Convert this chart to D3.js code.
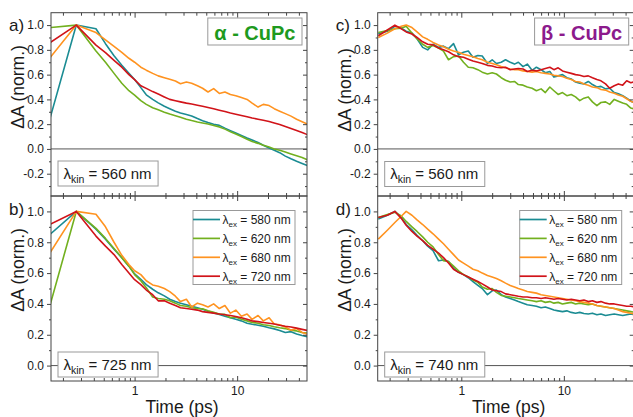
<!DOCTYPE html>
<html>
<head>
<meta charset="utf-8">
<script src="https://cdn.jsdelivr.net/npm/d3@7"></script>
<style>
body { margin: 0; background: #fff; }
text { font-family: "Liberation Sans", Arial, sans-serif; fill: #1a1a1a; }
</style>
</head>
<body>
<script>
// time grids (ps)
const tAB = [0.15, 0.27, 0.42, 0.52, 0.63, 0.75, 0.88, 1.0, 1.15, 1.3,
    1.5, 1.7, 1.95, 2.2, 2.5, 2.8, 3.2, 3.6, 4.1, 4.6,
    5.2, 5.9, 6.7, 7.6, 8.6, 9.7, 11, 12.5, 14, 16,
    18, 20.5, 23, 26, 29.5, 33.5, 38, 43, 48.5];

const tCD = [0.155, 0.19, 0.225, 0.26, 0.29, 0.33, 0.37, 0.42, 0.47, 0.53,
    0.6, 0.67, 0.75, 0.84, 0.94, 1.05, 1.17, 1.3, 1.45, 1.6,
    1.8, 2.0, 2.2, 2.45, 2.7, 3.0, 3.3, 3.6, 4.0, 4.4,
    4.9, 5.4, 6.0, 6.6, 7.3, 8.0, 8.8, 9.7, 10.7, 11.8,
    13, 14.3, 15.7, 17.3, 19, 21, 23, 25.5, 28, 31,
    34, 37.5, 41, 45, 49.5];

// a) alpha-CuPc, kin 560 nm
const a580 = [0.25, 1.0, 0.97, 0.85, 0.753, 0.675, 0.61, 0.56, 0.495, 0.437,
    0.40, 0.372, 0.345, 0.325, 0.305, 0.29, 0.278, 0.266, 0.245, 0.228,
    0.213, 0.20, 0.19, 0.168, 0.148, 0.128, 0.108, 0.088, 0.072, 0.052,
    0.03, 0.008, -0.01, -0.03, -0.058, -0.08, -0.10, -0.118, -0.135];
const a620 = [0.98, 1.0, 0.79, 0.70, 0.61, 0.53, 0.47, 0.435, 0.39, 0.36,
    0.333, 0.316, 0.297, 0.282, 0.268, 0.255, 0.24, 0.229, 0.218, 0.21,
    0.202, 0.19, 0.178, 0.16, 0.138, 0.12, 0.10, 0.078, 0.06, 0.045,
    0.03, 0.015, 0.0, -0.01, -0.025, -0.04, -0.055, -0.07, -0.088];
const a680 = [0.737, 1.0, 0.94, 0.88, 0.828, 0.78, 0.732, 0.70, 0.66, 0.636,
    0.61, 0.59, 0.575, 0.562, 0.548, 0.527, 0.54, 0.53, 0.51, 0.49,
    0.46, 0.487, 0.448, 0.46, 0.44, 0.43, 0.415, 0.40, 0.37, 0.338,
    0.36, 0.35, 0.325, 0.305, 0.285, 0.265, 0.24, 0.22, 0.20];
const a720 = [0.858, 1.0, 0.838, 0.777, 0.715, 0.66, 0.60, 0.56, 0.51, 0.489,
    0.463, 0.443, 0.42, 0.40, 0.389, 0.38, 0.37, 0.363, 0.353, 0.345,
    0.335, 0.325, 0.313, 0.302, 0.29, 0.28, 0.27, 0.26, 0.25, 0.24,
    0.232, 0.222, 0.21, 0.198, 0.182, 0.165, 0.148, 0.132, 0.115];

// b) alpha-CuPc, kin 725 nm
const b580 = [0.852, 1.0, 0.885, 0.82, 0.755, 0.70, 0.645, 0.595, 0.56, 0.525,
    0.495, 0.472, 0.452, 0.43, 0.415, 0.405, 0.394, 0.385, 0.375, 0.365,
    0.352, 0.342, 0.332, 0.32, 0.31, 0.30, 0.29, 0.275, 0.268, 0.262,
    0.255, 0.245, 0.238, 0.228, 0.215, 0.22, 0.205, 0.195, 0.187];
const b620 = [0.394, 1.0, 0.89, 0.825, 0.76, 0.70, 0.645, 0.59, 0.55, 0.505,
    0.445, 0.435, 0.43, 0.42, 0.405, 0.39, 0.385, 0.375, 0.37, 0.368,
    0.355, 0.345, 0.335, 0.332, 0.31, 0.315, 0.30, 0.29, 0.28, 0.275,
    0.265, 0.26, 0.252, 0.245, 0.24, 0.23, 0.225, 0.215, 0.21];
const b680 = [0.732, 1.0, 0.982, 0.90, 0.80, 0.715, 0.655, 0.615, 0.59, 0.55,
    0.523, 0.515, 0.50, 0.48, 0.45, 0.415, 0.43, 0.38, 0.405, 0.395,
    0.38, 0.40, 0.37, 0.39, 0.34, 0.36, 0.32, 0.335, 0.30, 0.325,
    0.29, 0.31, 0.27, 0.265, 0.25, 0.23, 0.24, 0.215, 0.205];
const b720 = [0.917, 1.0, 0.84, 0.775, 0.72, 0.655, 0.60, 0.557, 0.525, 0.49,
    0.46, 0.42, 0.42, 0.405, 0.39, 0.375, 0.37, 0.365, 0.36, 0.35,
    0.345, 0.34, 0.335, 0.33, 0.325, 0.318, 0.31, 0.30, 0.29, 0.285,
    0.28, 0.275, 0.27, 0.262, 0.255, 0.25, 0.243, 0.235, 0.228];

// c) beta-CuPc, kin 560 nm
const c580 = [0.93, 0.95, 0.99, 0.975, 0.95, 0.935, 0.89, 0.82, 0.80, 0.845,
    0.82, 0.83, 0.81, 0.85, 0.76, 0.78, 0.79, 0.74, 0.755, 0.75,
    0.69, 0.72, 0.69, 0.70, 0.72, 0.70, 0.685, 0.70, 0.665, 0.685,
    0.635, 0.66, 0.64, 0.615, 0.625, 0.58, 0.59, 0.60, 0.575, 0.565,
    0.54, 0.53, 0.525, 0.545, 0.52, 0.50, 0.505, 0.485, 0.49, 0.455,
    0.445, 0.43, 0.41, 0.385, 0.37];
const c620 = [0.94, 0.955, 0.97, 0.975, 0.99, 0.935, 0.89, 0.845, 0.82, 0.835,
    0.815, 0.79, 0.72, 0.745, 0.75, 0.70, 0.66, 0.655, 0.64, 0.62,
    0.605, 0.615, 0.605, 0.575, 0.555, 0.54, 0.545, 0.52, 0.515, 0.50,
    0.49, 0.47, 0.485, 0.455, 0.50, 0.47, 0.44, 0.455, 0.43, 0.44,
    0.42, 0.39, 0.41, 0.42, 0.38, 0.35, 0.375, 0.38, 0.36, 0.40,
    0.385, 0.37, 0.36, 0.33, 0.32];
const c680 = [0.90, 0.935, 0.97, 0.99, 1.0, 0.98, 0.945, 0.905, 0.885, 0.86,
    0.84, 0.825, 0.805, 0.79, 0.78, 0.765, 0.755, 0.745, 0.73, 0.72,
    0.70, 0.69, 0.68, 0.665, 0.655, 0.645, 0.64, 0.64, 0.63, 0.625,
    0.62, 0.625, 0.615, 0.61, 0.605, 0.595, 0.59, 0.585, 0.57, 0.56,
    0.545, 0.54, 0.525, 0.515, 0.50, 0.495, 0.48, 0.475, 0.46, 0.45,
    0.435, 0.425, 0.405, 0.385, 0.37];
const c720 = [0.914, 0.96, 1.0, 0.97, 0.945, 0.928, 0.90, 0.865, 0.845, 0.84,
    0.815, 0.80, 0.785, 0.76, 0.745, 0.74, 0.725, 0.71, 0.70, 0.69,
    0.675, 0.67, 0.66, 0.655, 0.66, 0.64, 0.645, 0.65, 0.645, 0.625,
    0.635, 0.63, 0.64, 0.65, 0.66, 0.64, 0.655, 0.63, 0.62, 0.61,
    0.60, 0.595, 0.585, 0.59, 0.575, 0.56, 0.55, 0.525, 0.49, 0.51,
    0.525, 0.515, 0.55, 0.535, 0.545];

// d) beta-CuPc, kin 740 nm
const d580 = [0.95, 0.975, 1.0, 0.96, 0.915, 0.88, 0.845, 0.81, 0.775, 0.745,
    0.68, 0.685, 0.675, 0.63, 0.605, 0.59, 0.57, 0.545, 0.52, 0.50,
    0.46, 0.485, 0.49, 0.46, 0.445, 0.435, 0.425, 0.415, 0.405, 0.395,
    0.39, 0.385, 0.375, 0.38, 0.37, 0.36, 0.355, 0.35, 0.355, 0.345,
    0.34, 0.345, 0.338, 0.335, 0.34, 0.33, 0.335, 0.325, 0.33, 0.335,
    0.33, 0.325, 0.33, 0.335, 0.33];
const d620 = [0.96, 0.98, 0.995, 0.97, 0.935, 0.90, 0.87, 0.835, 0.80, 0.77,
    0.72, 0.68, 0.675, 0.645, 0.615, 0.59, 0.575, 0.555, 0.54, 0.51,
    0.495, 0.50, 0.475, 0.455, 0.45, 0.445, 0.44, 0.435, 0.43, 0.425,
    0.42, 0.415, 0.42, 0.41, 0.415, 0.405, 0.41, 0.40, 0.405, 0.41,
    0.40, 0.405, 0.40, 0.395, 0.40, 0.39, 0.385, 0.38, 0.375, 0.37,
    0.365, 0.36, 0.355, 0.35, 0.345];
const d680 = [0.82, 0.878, 0.928, 0.969, 1.0, 0.975, 0.945, 0.915, 0.885, 0.855,
    0.82, 0.79, 0.755, 0.72, 0.685, 0.665, 0.645, 0.625, 0.615, 0.60,
    0.585, 0.575, 0.565, 0.55, 0.535, 0.52, 0.51, 0.50, 0.49, 0.48,
    0.475, 0.47, 0.46, 0.455, 0.45, 0.445, 0.44, 0.435, 0.43, 0.425,
    0.42, 0.415, 0.41, 0.405, 0.40, 0.39, 0.385, 0.38, 0.375, 0.37,
    0.36, 0.35, 0.345, 0.34, 0.335];
const d720 = [0.96, 0.975, 1.0, 0.955, 0.91, 0.87, 0.84, 0.81, 0.78, 0.755,
    0.73, 0.70, 0.665, 0.625, 0.605, 0.59, 0.575, 0.56, 0.545, 0.53,
    0.51, 0.49, 0.485, 0.48, 0.465, 0.46, 0.455, 0.45, 0.445, 0.445,
    0.44, 0.44, 0.435, 0.44, 0.435, 0.43, 0.435, 0.43, 0.425, 0.43,
    0.425, 0.42, 0.425, 0.415, 0.42, 0.41, 0.415, 0.405, 0.40, 0.40,
    0.395, 0.39, 0.385, 0.385, 0.38];

const excitation = ["580", "620", "680", "720"];
const xTicksMajor = [1, 10];
const xTicksMinor = [0.2, 0.3, 0.4, 0.5, 0.6, 0.7, 0.8, 0.9, 2, 3, 4, 5, 6, 7, 8, 9, 20, 30, 40];
const yTicksTop = [-0.2, 0.0, 0.2, 0.4, 0.6, 0.8, 1.0];
const yMinorTop = [-0.3, -0.1, 0.1, 0.3, 0.5, 0.7, 0.9];
const yTicksBottom = [0.0, 0.2, 0.4, 0.6, 0.8, 1.0];
const yMinorBottom = [0.1, 0.3, 0.5, 0.7, 0.9];

const colors = ["#1b8c93", "#72b01f", "#ff9320", "#d11319"];

const width = 633;
const height = 417;
const panelWidth = 256;
const timeDomain = [0.153, 48];

const svg = d3.select("body").append("svg")
    .attr("width", width)
    .attr("height", height);

const panels = [
    { letter: "a)", x0: 51, y0: 12.7, y1: 196, yDomain: [-0.38, 1.1], yMajor: yTicksTop, yMinor: yMinorTop,
      t: tAB, series: [a580, a620, a680, a720], kin: "560", kinTop: 161, title: "\u03b1 - CuPc", titleColor: "#1e9a1e",
      legend: false, xLabels: false, yLabelY: 87 },
    { letter: "b)", x0: 51, y0: 196, y1: 381, yDomain: [-0.1, 1.1], yMajor: yTicksBottom, yMinor: yMinorBottom,
      t: tAB, series: [b580, b620, b680, b720], kin: "725", kinTop: 352, title: null,
      legend: true, xLabels: true, yLabelY: 270 },
    { letter: "c)", x0: 377.7, y0: 12.7, y1: 196, yDomain: [-0.38, 1.1], yMajor: yTicksTop, yMinor: yMinorTop,
      t: tCD, series: [c580, c620, c680, c720], kin: "560", kinTop: 161.5, title: "\u03b2 - CuPc", titleColor: "#8c1a8c",
      legend: false, xLabels: false, yLabelY: 90 },
    { letter: "d)", x0: 377.7, y0: 196, y1: 381, yDomain: [-0.1, 1.1], yMajor: yTicksBottom, yMinor: yMinorBottom,
      t: tCD, series: [d580, d620, d680, d720], kin: "740", kinTop: 352, title: null,
      legend: true, xLabels: true, yLabelY: 270 }
];

function drawPanel(p, i) {
    const x1 = p.x0 + panelWidth;
    const x = d3.scaleLog().domain(timeDomain).range([p.x0, x1]);
    const y = d3.scaleLinear().domain(p.yDomain).range([p.y1, p.y0]);
    const g = svg.append("g");

    g.append("clipPath").attr("id", "clip" + i)
        .append("rect")
        .attr("x", p.x0).attr("y", p.y0)
        .attr("width", panelWidth).attr("height", p.y1 - p.y0);

    // zero line
    g.append("line")
        .attr("x1", p.x0).attr("x2", x1)
        .attr("y1", y(0)).attr("y2", y(0))
        .attr("stroke", "#555").attr("stroke-width", 1);

    const line = d3.line()
        .x((d, k) => x(p.t[k]))
        .y(d => y(d));

    g.append("g").attr("clip-path", "url(#clip" + i + ")")
        .selectAll(".trace")
        .data(p.series)
        .enter()
        .append("path")
        .attr("class", "trace")
        .attr("d", d => line(d))
        .attr("fill", "none")
        .attr("stroke", (d, k) => colors[k])
        .attr("stroke-width", 1.6)
        .attr("stroke-linejoin", "round");

    // axes: left ticks outward, others inward
    const fmt = d => d.toFixed(1);
    const axes = [
        g.append("g").attr("transform", `translate(${p.x0},0)`).call(d3.axisLeft(y).tickValues(p.yMajor).tickSize(4).tickPadding(3).tickFormat(fmt)),
        g.append("g").attr("transform", `translate(${p.x0},0)`).call(d3.axisLeft(y).tickValues(p.yMinor).tickSize(2).tickFormat("")),
        g.append("g").attr("transform", `translate(${x1},0)`).call(d3.axisRight(y).tickValues(p.yMajor).tickSize(-4).tickFormat("")),
        g.append("g").attr("transform", `translate(${x1},0)`).call(d3.axisRight(y).tickValues(p.yMinor).tickSize(-2).tickFormat("")),
        g.append("g").attr("transform", `translate(0,${p.y0})`).call(d3.axisTop(x).tickValues(xTicksMajor).tickSize(-5).tickFormat("")),
        g.append("g").attr("transform", `translate(0,${p.y0})`).call(d3.axisTop(x).tickValues(xTicksMinor).tickSize(-3).tickFormat("")),
        g.append("g").attr("transform", `translate(0,${p.y1})`).call(d3.axisBottom(x).tickValues(xTicksMajor).tickSize(-5).tickPadding(5)
            .tickFormat(d => p.xLabels ? String(d) : "")),
        g.append("g").attr("transform", `translate(0,${p.y1})`).call(d3.axisBottom(x).tickValues(xTicksMinor).tickSize(-3).tickFormat(""))
    ];
    axes.forEach(a => {
        a.select(".domain").remove();
        a.selectAll(".tick line").attr("stroke", "#444");
        a.selectAll(".tick text").attr("font-size", 12).attr("fill", "#1a1a1a")
            .attr("font-family", "'Liberation Sans', Arial, sans-serif");
    });

    // frame
    g.append("rect")
        .attr("x", p.x0).attr("y", p.y0)
        .attr("width", panelWidth).attr("height", p.y1 - p.y0)
        .attr("fill", "none").attr("stroke", "#444").attr("stroke-width", 1);

    // panel letter
    g.append("text")
        .attr("x", p.x0 - 42).attr("y", p.y0 + 18.5)
        .attr("font-size", 17)
        .text(p.letter);

    // y axis title
    g.append("text")
        .attr("transform", `translate(${p.x0 - 27},${p.yLabelY}) rotate(-90)`)
        .attr("text-anchor", "middle")
        .attr("font-size", 17.5)
        .text("\u0394A (norm.)");

    // x axis title
    if (p.xLabels) {
        g.append("text")
            .attr("x", p.x0 + panelWidth / 2 + 3).attr("y", 413)
            .attr("text-anchor", "middle")
            .attr("font-size", 17.5)
            .text("Time (ps)");
    }

    // kinetic wavelength box
    const kinBox = g.append("rect")
        .attr("x", p.x0 + 7).attr("y", p.kinTop)
        .attr("height", 25)
        .attr("fill", "#fff").attr("stroke", "#999").attr("stroke-width", 1);
    const kinText = g.append("text")
        .attr("x", p.x0 + 12.5).attr("y", p.kinTop + 17.5)
        .attr("font-size", 15);
    kinText.append("tspan").text("\u03bb");
    kinText.append("tspan").attr("font-size", 10.5).attr("dy", 4).text("kin");
    kinText.append("tspan").attr("dy", -4).text(" = " + p.kin + " nm");
    kinBox.attr("width", kinText.node().getComputedTextLength() + 12);

    // material title box
    if (p.title) {
        const right = x1 - 5;
        const tb = g.append("rect")
            .attr("y", 18).attr("height", 27)
            .attr("fill", "#fff").attr("stroke", "#999").attr("stroke-width", 1);
        const tt = g.append("text")
            .attr("x", right - 6.5).attr("y", 39.5)
            .attr("font-size", 20).attr("font-weight", "bold")
            .attr("text-anchor", "end")
            .style("fill", p.titleColor)
            .text(p.title);
        const tw = tt.node().getComputedTextLength();
        tb.attr("x", right - tw - 13).attr("width", tw + 13);
    }

    // legend
    if (p.legend) {
        const lx = p.x0 + 142;
        const ly = 210.5;
        const lg = g.append("g");
        lg.append("rect")
            .attr("x", lx).attr("y", ly)
            .attr("width", 102).attr("height", 74)
            .attr("fill", "#fff").attr("stroke", "#999").attr("stroke-width", 1);
        const rows = lg.selectAll(".row")
            .data(excitation)
            .enter()
            .append("g")
            .attr("class", "row")
            .attr("transform", (d, k) => `translate(${lx},${ly + 9 + k * 18.9})`);
        rows.append("line")
            .attr("x1", 0).attr("x2", 27)
            .attr("stroke", (d, k) => colors[k])
            .attr("stroke-width", 1.7);
        const lt = rows.append("text")
            .attr("x", 29.5).attr("y", 4.5)
            .attr("font-size", 12);
        lt.append("tspan").text("\u03bb");
        lt.append("tspan").attr("font-size", 8).attr("dy", 3).text("ex");
        lt.append("tspan").attr("dy", -3).text(d => " = " + d + " nm");
    }
}

panels.forEach(drawPanel);
</script>
</body>
</html>
